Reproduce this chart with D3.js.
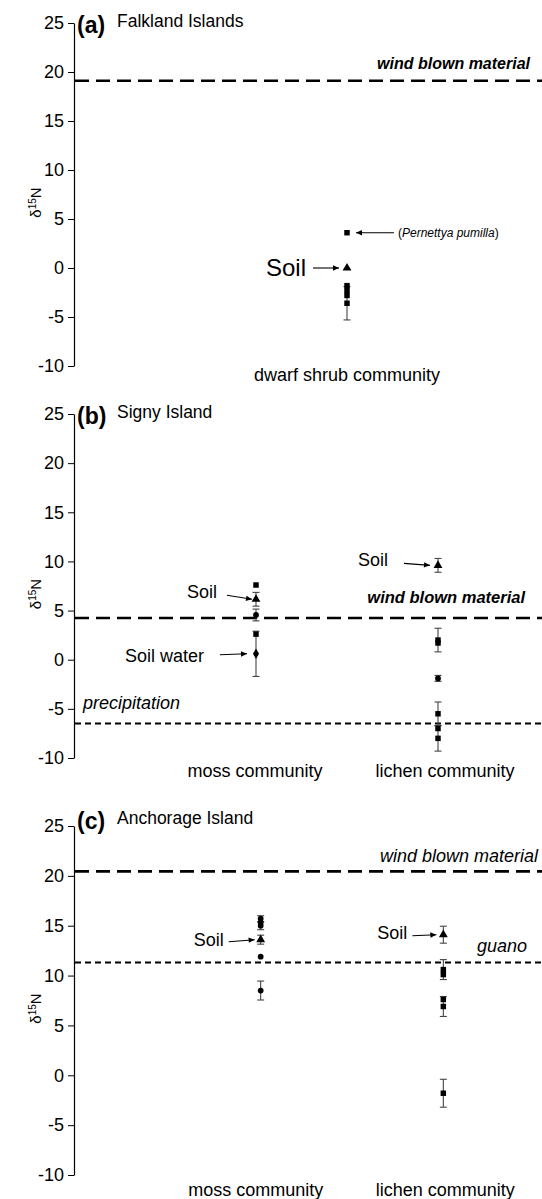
<!DOCTYPE html>
<html>
<head>
<meta charset="utf-8">
<script src="https://cdn.jsdelivr.net/npm/d3@7"></script>
<style>
  body { margin: 0; background: #fff; }
  text { font-family: "Liberation Sans", Arial, sans-serif; fill: #000; }
</style>
</head>
<body>
<script>
// ---- data ----
const yTicks = [-10, -5, 0, 5, 10, 15, 20, 25];

const catsA = ['dwarf shrub community'];
const catsBC = ['moss community', 'lichen community'];

// [category, value, symbol, error]
const pointsA = [
  ['dwarf shrub community', 3.6, 'square', 0],
  ['dwarf shrub community', 0.0, 'triangle', 0],
  ['dwarf shrub community', -1.8, 'square', 0],
  ['dwarf shrub community', -2.3, 'square', 0],
  ['dwarf shrub community', -2.8, 'square', 0],
  ['dwarf shrub community', -3.6, 'square', 1.7]
];
const pointsB = [
  ['moss community', 7.6, 'square', 0],
  ['moss community', 6.15, 'triangle', 0.7],
  ['moss community', 4.55, 'circle', 0.6],
  ['moss community', 2.6, 'square', 0],
  ['moss community', 0.6, 'diamond', 2.3],
  ['lichen community', 9.6, 'triangle', 0.7],
  ['lichen community', 2.0, 'square', 1.2],
  ['lichen community', 1.7, 'square', 0],
  ['lichen community', -1.9, 'circle', 0.3],
  ['lichen community', -5.5, 'square', 1.2],
  ['lichen community', -7.0, 'square', 0],
  ['lichen community', -8.0, 'square', 1.3]
];
const pointsC = [
  ['moss community', 15.7, 'circle', 0.3],
  ['moss community', 15.3, 'circle', 0],
  ['moss community', 15.0, 'circle', 0.4],
  ['moss community', 13.6, 'triangle', 0.45],
  ['moss community', 11.9, 'circle', 0],
  ['moss community', 8.5, 'circle', 0.95],
  ['lichen community', 14.1, 'triangle', 0.85],
  ['lichen community', 10.6, 'square', 1.0],
  ['lichen community', 10.1, 'square', 0],
  ['lichen community', 7.6, 'square', 0],
  ['lichen community', 6.9, 'square', 1.0],
  ['lichen community', -1.8, 'square', 1.4]
];

// [label, value, dash style]
const refA = [['wind blown material', 19.1, 'long']];
const refB = [['wind blown material', 4.25, 'long'], ['precipitation', -6.5, 'short']];
const refC = [['wind blown material', 20.45, 'long'], ['guano', 11.3, 'short']];

// ---- layout ----
const W = 542, H = 1199;
const axisX = 74;

const svg = d3.select('body').append('svg')
  .attr('width', W)
  .attr('height', H);

svg.append('rect').attr('width', W).attr('height', H).attr('fill', '#fff');

svg.append('defs').append('marker')
  .attr('id', 'arrow')
  .attr('viewBox', '0 0 10 10')
  .attr('refX', 10).attr('refY', 5)
  .attr('markerWidth', 7).attr('markerHeight', 6)
  .attr('markerUnits', 'userSpaceOnUse')
  .attr('orient', 'auto')
  .append('path')
  .attr('d', 'M0,0.5 L10,5 L0,9.5 Z')
  .attr('fill', '#000');

const symbols = {
  square: d3.symbol().type(d3.symbolSquare).size(30),
  triangle: d3.symbol().type(d3.symbolTriangle).size(34),
  circle: d3.symbol().type(d3.symbolCircle).size(26),
  diamond: d3.symbol().type(d3.symbolDiamond).size(32)
};

const panels = [
  {
    letter: '(a)', name: 'Falkland Islands', top: 23, bottom: 366,
    titleDy: 10, nameDy: 4,
    cats: catsA, xRange: [axisX, 620], xPad: 0.5, points: pointsA, refs: refA,
    labelY: 381, labelShift: [0],
    notes: [
      { cat: 'dwarf shrub community', v: 3.6, text: '(Pernettya pumilla)', italic: true, size: 12, tx: 51, ax0: 47, ax1: 9, tdy: 0, ady: 0, anchor: 'start' },
      { cat: 'dwarf shrub community', v: 0, text: 'Soil', size: 24, tx: -41, ax0: -34, ax1: -8, tdy: 0, ady: 0, anchor: 'end' }
    ],
    refText: { 'wind blown material': { x: 530, dy: -12, anchor: 'end', size: 16, bold: true } }
  },
  {
    letter: '(b)', name: 'Signy Island', top: 414, bottom: 758,
    titleDy: 10, nameDy: 4,
    cats: catsBC, xRange: [axisX, 620], xPad: 1, points: pointsB, refs: refB,
    labelY: 777, labelShift: [-1, 7],
    notes: [
      { cat: 'moss community', v: 6.15, text: 'Soil', size: 18, tx: -39, ax0: -29, ax1: -4, tdy: -8, ady: -4, anchor: 'end' },
      { cat: 'moss community', v: 0.6, text: 'Soil water', size: 18, tx: -52, ax0: -36, ax1: -9, tdy: 2, ady: 1, anchor: 'end' },
      { cat: 'lichen community', v: 9.6, text: 'Soil', size: 18, tx: -50, ax0: -34, ax1: -8, tdy: -6, ady: -2, anchor: 'end' }
    ],
    refText: {
      'wind blown material': { x: 525, dy: -15, anchor: 'end', size: 16.5, bold: true },
      'precipitation': { x: 83, dy: -15, anchor: 'start', size: 18, bold: false }
    }
  },
  {
    letter: '(c)', name: 'Anchorage Island', top: 826, bottom: 1175,
    titleDy: 3, nameDy: -2,
    cats: catsBC, xRange: [78, 626], xPad: 1, points: pointsC, refs: refC,
    labelY: 1196, labelShift: [-5, 2],
    notes: [
      { cat: 'moss community', v: 13.6, text: 'Soil', size: 18, tx: -37, ax0: -32, ax1: -6, tdy: 0, ady: 2, anchor: 'end' },
      { cat: 'lichen community', v: 14.1, text: 'Soil', size: 18, tx: -36, ax0: -31, ax1: -7, tdy: -2, ady: 1, anchor: 'end' }
    ],
    refText: {
      'wind blown material': { x: 538, dy: -9, anchor: 'end', size: 18, bold: false },
      'guano': { x: 527, dy: -11, anchor: 'end', size: 18, bold: false }
    }
  }
];

panels.forEach(p => {
  const g = svg.append('g');

  const y = d3.scaleLinear().domain([-10, 25]).range([p.bottom, p.top]);
  const x = d3.scalePoint().domain(p.cats).range(p.xRange).padding(p.xPad);

  // y axis
  const yAxis = d3.axisLeft(y)
    .tickValues(yTicks)
    .tickFormat(d => String(d))
    .tickSize(6)
    .tickSizeOuter(0)
    .tickPadding(4);

  const ax = g.append('g')
    .attr('transform', 'translate(' + axisX + ',0)')
    .call(yAxis);
  ax.select('.domain').attr('stroke', '#000').attr('stroke-width', 1.2);
  ax.selectAll('.tick line').attr('stroke', '#000');
  ax.selectAll('.tick text')
    .style('font-family', '"Liberation Sans", Arial, sans-serif')
    .style('font-size', '18px')
    .attr('fill', '#000');

  // y label
  const yl = g.append('text')
    .attr('transform', 'translate(41,' + ((p.top + p.bottom) / 2 + 8) + ') rotate(-90)')
    .attr('text-anchor', 'middle')
    .style('font-size', '15px');
  yl.append('tspan').text('δ');
  yl.append('tspan').attr('dy', -5).style('font-size', '10px').text('15');
  yl.append('tspan').attr('dy', 5).text('N');

  // title
  g.append('text')
    .attr('x', 77).attr('y', p.top + p.titleDy)
    .style('font-size', '23px').style('font-weight', 'bold')
    .text(p.letter);
  g.append('text')
    .attr('x', 117).attr('y', p.top + p.nameDy)
    .style('font-size', '17.5px')
    .text(p.name);

  // reference lines
  p.refs.forEach(r => {
    g.append('line')
      .attr('x1', axisX + 1).attr('x2', W)
      .attr('y1', y(r[1])).attr('y2', y(r[1]))
      .attr('stroke', '#000')
      .attr('stroke-width', r[2] === 'long' ? 2.6 : 2)
      .attr('stroke-dasharray', r[2] === 'long' ? '14,7' : '6,4');
    const t = p.refText[r[0]];
    g.append('text')
      .attr('x', t.x).attr('y', y(r[1]) + t.dy)
      .attr('text-anchor', t.anchor)
      .style('font-size', t.size + 'px')
      .style('font-style', 'italic')
      .style('font-weight', t.bold ? 'bold' : 'normal')
      .text(r[0]);
  });

  // error bars
  const errs = p.points.filter(d => d[3] > 0);
  const eg = g.selectAll('g.err').data(errs).enter().append('g')
    .attr('stroke', '#444').attr('stroke-width', 1.1);
  eg.append('line')
    .attr('x1', d => x(d[0])).attr('x2', d => x(d[0]))
    .attr('y1', d => y(d[1] + d[3])).attr('y2', d => y(d[1] - d[3]));
  eg.append('line')
    .attr('x1', d => x(d[0]) - 3.5).attr('x2', d => x(d[0]) + 3.5)
    .attr('y1', d => y(d[1] + d[3])).attr('y2', d => y(d[1] + d[3]));
  eg.append('line')
    .attr('x1', d => x(d[0]) - 3.5).attr('x2', d => x(d[0]) + 3.5)
    .attr('y1', d => y(d[1] - d[3])).attr('y2', d => y(d[1] - d[3]));

  // markers
  g.selectAll('path.pt').data(p.points).enter().append('path')
    .attr('class', 'pt')
    .attr('transform', d => 'translate(' + x(d[0]) + ',' + y(d[1]) + ')')
    .attr('d', d => symbols[d[2]]())
    .attr('fill', '#000');

  // category labels
  g.selectAll('text.cat').data(p.cats).enter().append('text')
    .attr('class', 'cat')
    .attr('x', (d, i) => x(d) + p.labelShift[i])
    .attr('y', p.labelY)
    .attr('text-anchor', 'middle')
    .style('font-size', '18px')
    .text(d => d);

  // annotations with arrows
  p.notes.forEach(n => {
    const cx = x(n.cat), cy = y(n.v);
    g.append('line')
      .attr('x1', cx + n.ax0).attr('y1', cy + n.ady)
      .attr('x2', cx + (n.ax0 > 0 ? n.ax1 : n.ax1)).attr('y2', cy)
      .attr('stroke', '#000').attr('stroke-width', 1.1)
      .attr('marker-end', 'url(#arrow)');
    const t = g.append('text')
      .attr('x', cx + n.tx).attr('y', cy + n.tdy)
      .attr('dy', '0.35em')
      .attr('text-anchor', n.anchor)
      .style('font-size', n.size + 'px');
    if (n.italic) {
      t.append('tspan').text('(');
      t.append('tspan').style('font-style', 'italic').text('Pernettya pumilla');
      t.append('tspan').text(')');
    } else {
      t.text(n.text);
    }
  });
});
</script>
</body>
</html>
